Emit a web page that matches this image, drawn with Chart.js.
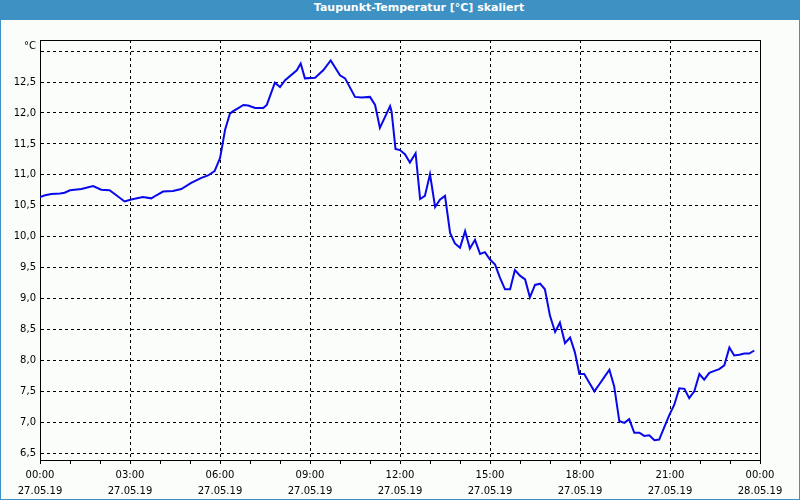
<!DOCTYPE html>
<html>
<head>
<meta charset="utf-8">
<title>Taupunkt-Temperatur</title>
<script src="https://cdn.jsdelivr.net/npm/chart.js@4"></script>
<style>
    html, body { margin: 0; padding: 0; background: #ffffff; }
    #fenster {
        position: relative; width: 800px; height: 500px; box-sizing: border-box;
        border: 1px solid #3d91c3; background: #fbfdfb; overflow: hidden;
    }
    #titelLeiste {
        position: absolute; left: 0; top: 0; width: 798px; height: 19px;
        background: #3d91c3; color: #ffffff; text-align: center; line-height: 19px;
        font: bold 11px "DejaVu Sans", sans-serif; padding-left: 38px; box-sizing: border-box;
    }
    #diagramm { position: absolute; left: -1px; top: -1px; width: 800px; height: 500px; }
</style>
</head>
<body>
<div id="fenster">
    <div id="titelLeiste">Taupunkt-Temperatur [°C] skaliert</div>
    <div id="diagramm"><canvas id="taupunktChart"></canvas></div>
</div>
<script>
// Messzeitpunkte (Stunden ab 27.05.19 00:00)
const stunden = [
    0.00, 0.17, 0.38, 0.67, 0.82, 1.00, 1.38, 1.77, 2.04, 2.32,
    2.60, 2.82, 3.04, 3.43, 3.71, 3.88, 4.10, 4.43, 4.71, 5.04,
    5.38, 5.60, 5.82, 6.00, 6.08, 6.17, 6.33, 6.44, 6.61, 6.78,
    6.94, 7.17, 7.44, 7.56, 7.83, 8.00, 8.17, 8.56, 8.69, 8.83,
    9.17, 9.44, 9.69, 10.00, 10.17, 10.50, 10.72, 11.00, 11.17, 11.33,
    11.67, 11.72, 11.85, 12.00, 12.17, 12.33, 12.52, 12.67, 12.83, 13.00,
    13.17, 13.33, 13.50, 13.67, 13.83, 14.00, 14.17, 14.33, 14.50, 14.67,
    14.83, 15.00, 15.17, 15.33, 15.50, 15.67, 15.83, 16.00, 16.17, 16.33,
    16.50, 16.67, 16.83, 17.00, 17.17, 17.33, 17.50, 17.67, 17.83, 17.98,
    18.14, 18.31, 18.48, 18.64, 18.81, 18.98, 19.14, 19.31, 19.48, 19.64,
    19.81, 19.98, 20.14, 20.31, 20.48, 20.64, 20.81, 20.98, 21.14, 21.31,
    21.48, 21.64, 21.81, 21.98, 22.14, 22.31, 22.48, 22.64, 22.81, 22.98,
    23.14, 23.31, 23.48, 23.64, 23.81
];

// Taupunkt in °C
const taupunkt = [
    10.64, 10.67, 10.69, 10.70, 10.71, 10.75, 10.77, 10.82, 10.76, 10.75,
    10.65, 10.57, 10.60, 10.64, 10.62, 10.67, 10.73, 10.74, 10.77, 10.87,
    10.95, 10.99, 11.06, 11.27, 11.48, 11.73, 11.99, 12.03, 12.08, 12.13,
    12.12, 12.08, 12.08, 12.13, 12.49, 12.42, 12.53, 12.69, 12.80, 12.56,
    12.57, 12.69, 12.85, 12.61, 12.56, 12.26, 12.25, 12.26, 12.13, 11.76,
    12.11, 12.02, 11.42, 11.40, 11.33, 11.20, 11.35, 10.61, 10.66, 11.01,
    10.48, 10.60, 10.66, 10.06, 9.89, 9.82, 10.09, 9.81, 9.95, 9.72,
    9.75, 9.63, 9.55, 9.34, 9.15, 9.15, 9.46, 9.37, 9.31, 9.02,
    9.22, 9.24, 9.15, 8.72, 8.46, 8.61, 8.28, 8.37, 8.13, 7.78,
    7.78, 7.64, 7.50, 7.61, 7.73, 7.85, 7.58, 7.02, 6.99, 7.05,
    6.83, 6.83, 6.78, 6.79, 6.71, 6.72, 6.92, 7.12, 7.28, 7.55,
    7.54, 7.39, 7.50, 7.78, 7.69, 7.80, 7.83, 7.86, 7.92, 8.21,
    8.08, 8.09, 8.11, 8.11, 8.16
];

// Beschriftungen der x-Achse (alle 3 Stunden)
const zeitLabels = ['00:00', '03:00', '06:00', '09:00', '12:00', '15:00', '18:00', '21:00', '00:00'];
const datumLabels = ['27.05.19', '27.05.19', '27.05.19', '27.05.19', '27.05.19', '27.05.19', '27.05.19', '27.05.19', '28.05.19'];

const schrift = { family: '"DejaVu Sans", sans-serif', size: 10 };

// Rahmen oben/rechts und Einheit "°C" zeichnen
const rahmenPlugin = {
    id: 'rahmen',
    afterDraw(chart) {
        const ctx = chart.ctx;
        const a = chart.chartArea;
        ctx.save();
        ctx.strokeStyle = '#000000';
        ctx.lineWidth = 1;
        ctx.beginPath();
        ctx.moveTo(Math.round(a.left), Math.round(a.top) + 0.5);
        ctx.lineTo(Math.round(a.right) + 0.5, Math.round(a.top) + 0.5);
        ctx.lineTo(Math.round(a.right) + 0.5, Math.round(a.bottom));
        ctx.stroke();
        ctx.fillStyle = '#000000';
        ctx.font = '10px "DejaVu Sans", sans-serif';
        ctx.textAlign = 'right';
        ctx.textBaseline = 'middle';
        ctx.fillText('°C', 36, 46);
        ctx.restore();
    }
};

const punkte = stunden.map((h, i) => ({ x: h, y: taupunkt[i] }));

new Chart(document.getElementById('taupunktChart'), {
    type: 'line',
    data: {
        datasets: [{
            label: 'Taupunkt',
            data: punkte,
            borderColor: '#0808ea',
            borderWidth: 2,
            pointRadius: 0,
            tension: 0,
            fill: false
        }]
    },
    options: {
        responsive: true,
        maintainAspectRatio: false,
        animation: false,
        layout: { padding: { top: 40, right: 40, left: 0, bottom: 0 } },
        plugins: {
            legend: { display: false },
            title: { display: false },
            tooltip: { enabled: false }
        },
        scales: {
            x: {
                type: 'linear',
                min: 0,
                max: 24,
                afterFit: function(scale) { scale.height = 40; },
                ticks: {
                    stepSize: 1,
                    autoSkip: false,
                    maxRotation: 0,
                    padding: 4,
                    color: '#000000',
                    font: { family: schrift.family, size: 10, lineHeight: 1.55 },
                    callback: function(value) {
                        if (value % 3 !== 0) return '';
                        const i = value / 3;
                        return [zeitLabels[i], datumLabels[i]];
                    }
                },
                grid: {
                    color: ctx => (ctx.tick && ctx.tick.value % 3 === 0) ? '#000000' : 'rgba(0,0,0,0)',
                    tickColor: '#000000',
                    tickLength: 4,
                    lineWidth: 1
                },
                border: { display: true, color: '#000000', width: 1, dash: [3, 3] }
            },
            y: {
                type: 'linear',
                min: 6.39,
                max: 13.18,
                afterFit: function(scale) { scale.width = 40; },
                ticks: {
                    stepSize: 0.5,
                    includeBounds: false,
                    padding: 4,
                    color: '#000000',
                    font: schrift,
                    callback: function(value) {
                        if (value > 12.9) return '';
                        return value.toFixed(1).replace('.', ',');
                    }
                },
                grid: {
                    color: '#000000',
                    drawTicks: false,
                    lineWidth: 1
                },
                border: { display: true, color: '#000000', width: 1, dash: [3, 3] }
            }
        }
    },
    plugins: [rahmenPlugin]
});
</script>
</body>
</html>
